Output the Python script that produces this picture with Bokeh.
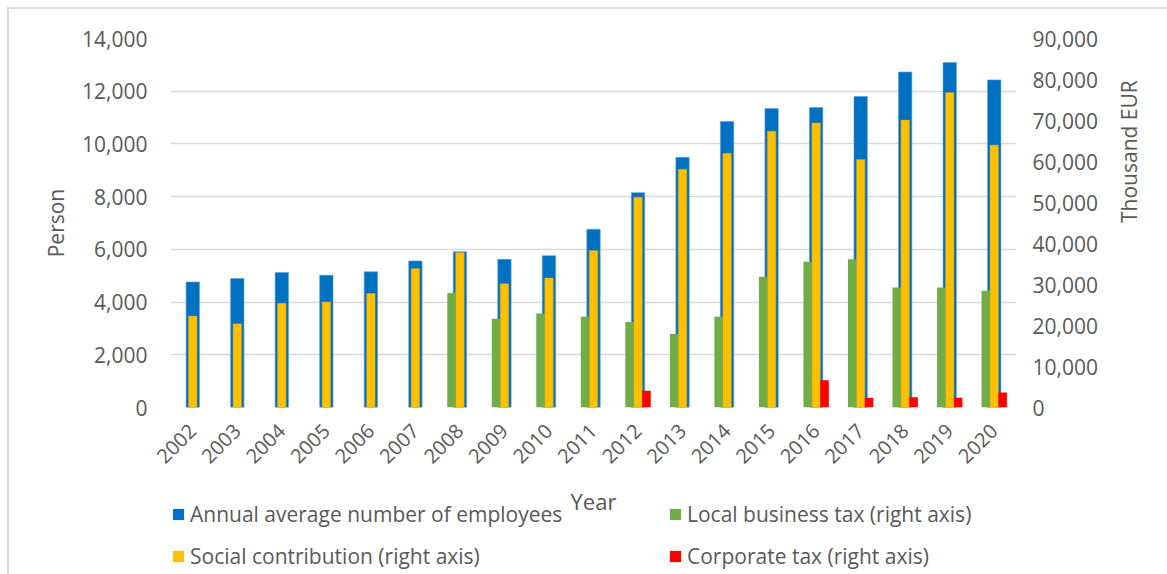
import math
from bokeh.plotting import figure
from bokeh.layouts import column
from bokeh.models import (ColumnDataSource, Range1d, LinearAxis, FactorRange,
                          NumeralTickFormatter, FixedTicker, Legend, LegendItem)
from bokeh.transform import dodge
from bokeh.embed import file_html
from bokeh.resources import INLINE

nan = float("nan")

years = [str(y) for y in range(2002, 2021)]
employees = [4760, 4890, 5120, 5020, 5150, 5560, 5910, 5620, 5760, 6760,
             8150, 9490, 10850, 11340, 11380, 11800, 12730, 13090, 12430]
social = [22300, 20400, 25400, 25750, 27800, 33900, 37800, 30200, 31600, 38300,
          51300, 58100, 62000, 67400, 69400, 60500, 70100, 76800, 64000]
local_tax = [nan, nan, nan, nan, nan, nan, 27950, 21650, 22900, 22150,
             20850, 17950, 22150, 31900, 35550, 36150, 29250, 29250, 28450]
corporate = [nan, nan, nan, nan, nan, nan, nan, nan, nan, nan,
             4100, nan, nan, nan, 6650, 2370, 2530, 2370, 3680]

left_ticks = [0, 2000, 4000, 6000, 8000, 10000, 12000, 14000]
right_ticks = [0, 10000, 20000, 30000, 40000, 50000, 60000, 70000, 80000, 90000]

series_names = ["Annual average number of employees", "Local business tax (right axis)",
                "Social contribution (right axis)", "Corporate tax (right axis)"]
series_cols = ["emp", "loc", "soc", "corp"]
C_EMP, C_LOC, C_SOC, C_CORP = "#0070C0", "#70AD47", "#FFC000", "#FF0000"
series_colors = [C_EMP, C_LOC, C_SOC, C_CORP]

src = ColumnDataSource(dict(year=years, emp=employees, soc=social,
                            loc=local_tax, corp=corporate))

FONT = "Open Sans"
TXT = "#595959"
BORDER = "2px solid #d9d9d9"

p = figure(x_range=FactorRange(*years), y_range=Range1d(0, 14000),
           width=1160, height=517, output_backend="svg", toolbar_location=None,
           min_border_left=161, min_border_right=153, min_border_top=29,
           min_border_bottom=119, margin=(7, 0, 0, 7))
p.styles = {"border-top": BORDER, "border-left": BORDER}
p.extra_y_ranges = {"right": Range1d(0, 90000)}
p.outline_line_color = None
p.background_fill_color = "white"
p.border_fill_color = "white"

p.vbar(x="year", top="emp", width=0.3, source=src, fill_color=C_EMP,
       line_color="#5B9BD5", line_alpha=0.6, line_width=1)
p.vbar(x=dodge("year", -0.19, range=p.x_range), top="loc", width=0.19,
       source=src, fill_color=C_LOC, line_color=None, y_range_name="right")
p.vbar(x=dodge("year", 0.0, range=p.x_range), top="soc", width=0.19,
       source=src, fill_color=C_SOC, line_color="#C9A227", line_alpha=0.5,
       y_range_name="right")
p.vbar(x=dodge("year", 0.19, range=p.x_range), top="corp", width=0.19,
       source=src, fill_color=C_CORP, line_color=None, y_range_name="right")

# grid
p.xgrid.grid_line_color = None
p.ygrid.grid_line_color = "#d9d9d9"
p.ygrid.grid_line_width = 1.5
p.ygrid.ticker = FixedTicker(ticks=left_ticks)

# left axis
ay = p.yaxis[0]
ay.ticker = FixedTicker(ticks=left_ticks)
ay.formatter = NumeralTickFormatter(format="0,0")
ay.axis_label = "Person"

# right axis
ar = LinearAxis(y_range_name="right", ticker=FixedTicker(ticks=right_ticks),
                formatter=NumeralTickFormatter(format="0,0"), axis_label="Thousand EUR")
p.add_layout(ar, "right")
if "axis_label_orientation" in ar.properties():
    ar.axis_label_orientation = math.pi / 2

ax = p.xaxis[0]
ax.axis_label = "Year"
ax.major_label_orientation = math.pi / 4

for a in (ax, ay, ar):
    a.axis_line_color = None
    a.major_tick_line_color = None
    a.minor_tick_line_color = None
    a.major_label_text_font = FONT
    a.major_label_text_font_size = "21px"
    a.major_label_text_color = TXT
    a.axis_label_text_font = FONT
    a.axis_label_text_font_size = "21px"
    a.axis_label_text_color = TXT
    a.axis_label_text_font_style = "normal"

ax.major_label_text_font_size = "20px"
ax.axis_label_text_font_size = "22px"
ay.major_label_standoff = 17
ar.major_label_standoff = 10
ay.axis_label_standoff = 9
ar.axis_label_standoff = 28
ax.major_label_standoff = 14
ax.axis_label_standoff = 13

# legend strip: a transparent figure overlapping the bottom of the chart
lf = figure(width=1160, height=78, output_backend="svg", toolbar_location=None,
            x_range=FactorRange(*years), y_range=Range1d(0, 90000),
            x_axis_location=None, y_axis_location=None,
            min_border=0, margin=(-28, 0, 0, 7))
lf.styles = {"border-left": BORDER}
lf.outline_line_color = None
lf.grid.visible = False
lf.background_fill_alpha = 0
lf.border_fill_alpha = 0

swatch = {}
for name, col, colr in zip(series_names, series_cols, series_colors):
    swatch[name] = lf.vbar(x="year", top=col, width=0.2, source=src,
                           fill_color=colr, line_color=None, visible=False)


def make_legend(names, loc):
    return Legend(items=[LegendItem(label=n, renderers=[swatch[n]]) for n in names],
                  location=loc, orientation="vertical",
                  label_text_font=FONT, label_text_font_size="21px", label_text_color=TXT,
                  glyph_width=14, glyph_height=14, label_standoff=5, spacing=14,
                  padding=0, margin=0, border_line_color=None, background_fill_alpha=0,
                  inactive_fill_alpha=0)


lf.add_layout(make_legend([series_names[0], series_names[2]], (1, 4)), "center")
lf.add_layout(make_legend([series_names[1], series_names[3]], (498, 4)), "center")

layout = column(p, lf, spacing=0)
open("out.html", "w").write(file_html(layout, INLINE))
